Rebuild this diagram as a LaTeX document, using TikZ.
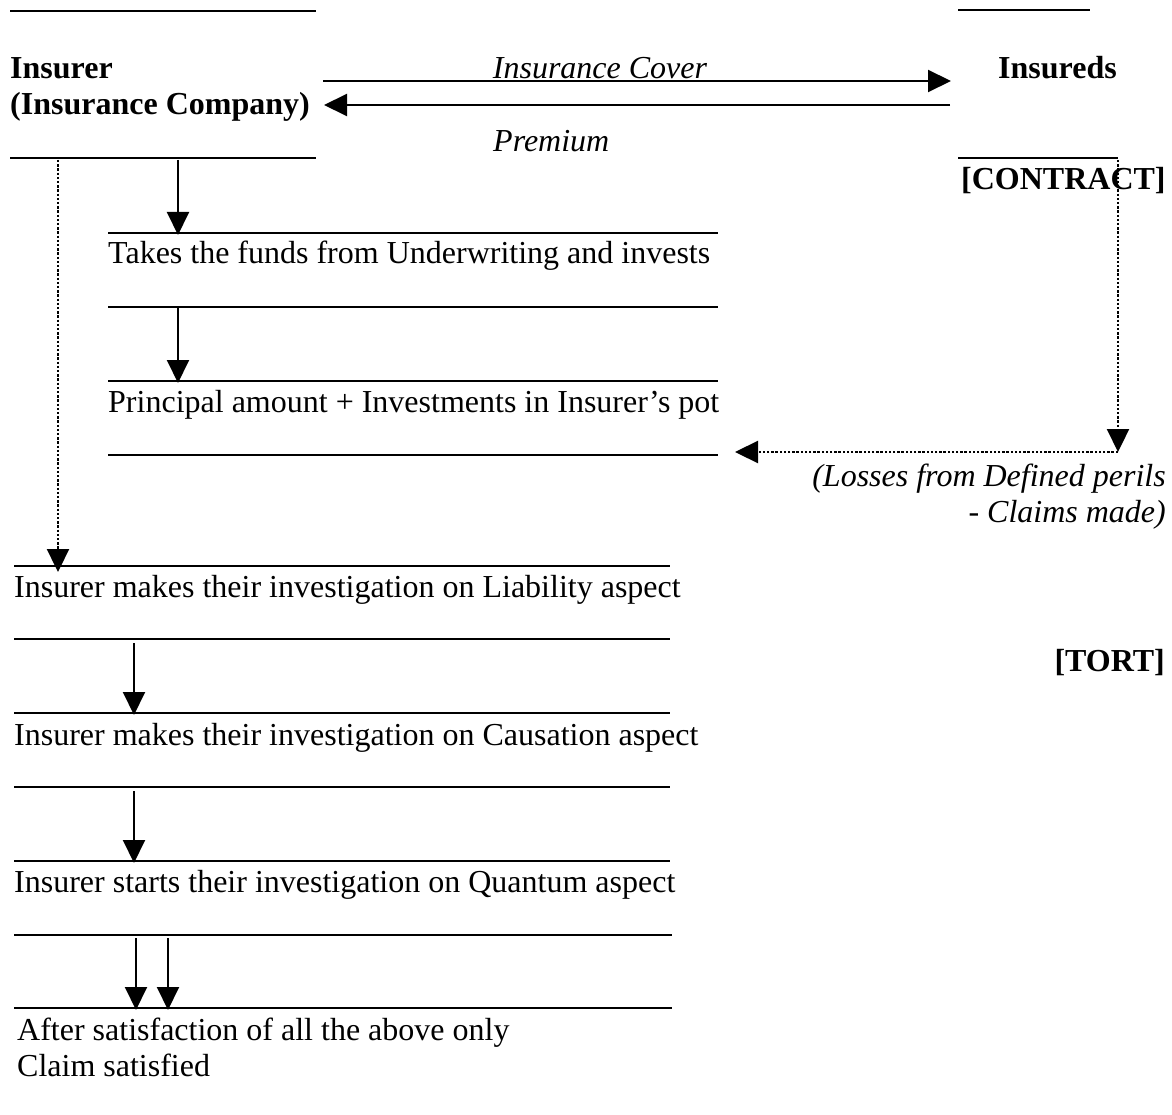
\documentclass[tikz,border=0pt]{standalone}
\usepackage{fontspec}
\setmainfont{Liberation Serif}
\usetikzlibrary{arrows.meta}
\begin{document}
\begin{tikzpicture}[x=1pt,y=-1pt,
  rule/.style={line width=1.9pt},
  flow/.style={line width=2pt,-{Triangle[length=23pt,width=22pt]}},
  dotflow/.style={line width=2.3pt,dash pattern=on 2.4pt off 1.8pt,-{Triangle[length=23pt,width=22pt]}},
  txt/.style={anchor=base west,inner sep=0pt,font=\fontsize{32}{36}\selectfont},
  rtxt/.style={anchor=base east,inner sep=0pt,font=\fontsize{32}{36}\selectfont},
  btxt/.style={txt,font=\fontsize{32}{36}\selectfont\bfseries},
  itxt/.style={txt,font=\fontsize{32}{36}\selectfont\itshape}]
\useasboundingbox (0,0) rectangle (1172,1115);
\fill[white] (0,0) rectangle (1172,1115);

% parties
\node[btxt] (insurer) at (10,79) {Insurer};
\node[btxt] (company) at (10,115) {(Insurance Company)};
\node[btxt] (insureds) at (998,79) {Insureds};
\node[btxt] (contract) at (961,190) {[CONTRACT]};
\node[btxt,anchor=base east] (tort) at (1165,671) {[TORT]};

% flows between the parties
\node[itxt,anchor=base] (cover) at (600,79) {Insurance Cover};
\node[itxt] (premium) at (493,152) {Premium};
\coordinate (coverS) at (323,81);
\coordinate (coverE) at (951,81);
\coordinate (premS) at (950,105);
\coordinate (premE) at (324,105);
\draw[flow] (coverS) -- (coverE);
\draw[flow] (premS) -- (premE);

% rules around the parties
\draw[rule] (10,11) -- (316,11);
\draw[rule] (958,10) -- (1090,10);
\draw[rule] (10,158) -- (316,158);
\draw[rule] (958,158) -- (1118,158);

% investment chain
\node[txt] (funds) at (108,264) {Takes the funds from Underwriting and invests};
\node[txt] (pot) at (108,412) {Principal amount + Investments in Insurer’s pot};
\draw[rule] (108,233) -- (718,233);
\draw[rule] (108,307) -- (718,307);
\draw[rule] (108,381) -- (718,381);
\draw[rule] (108,455) -- (718,455);
\coordinate (i1s) at (178,160);
\coordinate (i1e) at (178,235);
\coordinate (i2s) at (178,307);
\coordinate (i2e) at (178,383);
\draw[flow] (i1s) -- (i1e);
\draw[flow] (i2s) -- (i2e);

% claims
\coordinate (cTop) at (1118,160);
\coordinate (cCorner) at (1118,452);
\coordinate (cEnd) at (735,452);
\draw[dotflow] (cTop) -- (cCorner);
\draw[dotflow] (cCorner) -- (cEnd);
\node[rtxt,font=\fontsize{32}{36}\selectfont\itshape] (losses) at (1166,486) {(Losses from Defined perils};
\node[rtxt,font=\fontsize{32}{36}\selectfont\itshape] (made) at (1166,522) {- Claims made)};

% investigation chain
\coordinate (dTop) at (58,160);
\coordinate (dEnd) at (58,572);
\draw[dotflow] (dTop) -- (dEnd);
\node[txt] (liab) at (14,597) {Insurer makes their investigation on Liability aspect};
\node[txt] (caus) at (14,745) {Insurer makes their investigation on Causation aspect};
\node[txt] (quant) at (14,892) {Insurer starts their investigation on Quantum aspect};
\node[txt] (after) at (17,1040) {After satisfaction of all the above only};
\node[txt] (claim) at (17,1076) {Claim satisfied};
\draw[rule] (14,566) -- (670,566);
\draw[rule] (14,639) -- (670,639);
\draw[rule] (14,713) -- (670,713);
\draw[rule] (14,787) -- (670,787);
\draw[rule] (14,861) -- (670,861);
\draw[rule] (14,935) -- (672,935);
\draw[rule] (14,1008) -- (672,1008);
\coordinate (l1s) at (134,643);
\coordinate (l1e) at (134,715);
\coordinate (l2s) at (134,791);
\coordinate (l2e) at (134,863);
\coordinate (l3s) at (136,938);
\coordinate (l3e) at (136,1010);
\coordinate (l4s) at (168,938);
\coordinate (l4e) at (168,1010);
\draw[flow] (l1s) -- (l1e);
\draw[flow] (l2s) -- (l2e);
\draw[flow] (l3s) -- (l3e);
\draw[flow] (l4s) -- (l4e);
\end{tikzpicture}
\end{document}
